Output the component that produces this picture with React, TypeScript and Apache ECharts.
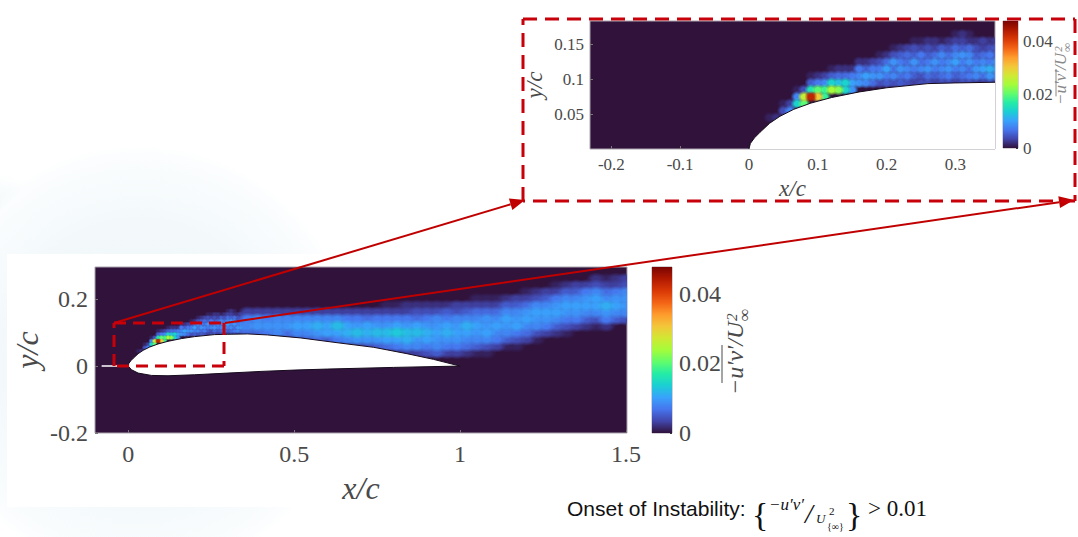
import React, { useEffect, useRef } from "react";
import * as echarts from "echarts";

// Colour scale of the field (bottom to top of the colour bar)
const colorStops = ["#30123b","#4145ab","#4675ed","#39a2fc","#1bcfd4","#24eca6","#61fc6c","#a4fc3b","#d1e834","#f3c63a","#fe9b2d","#f36315","#d93806","#b11901","#7a0403"];
const colorMax = 0.0477;
const colorTicks = [0, 0.02, 0.04];

// Airfoil outline (x/c, y/c), leading edge to trailing edge
const upperX = [0,0.002,0.008,0.016,0.03,0.045,0.065,0.09,0.12,0.16,0.2,0.26,0.3,0.36,0.42,0.52,0.62,0.74,0.84,0.92,1];
const upperY = [0,0.008,0.016,0.024,0.037,0.047,0.057,0.066,0.074,0.082,0.088,0.094,0.095,0.096,0.093,0.084,0.071,0.056,0.037,0.02,0];
const lowerX = [1,0.8,0.6,0.5,0.4,0.3,0.2,0.12,0.07,0.03,0.01,0];
const lowerY = [0,-0.004,-0.009,-0.012,-0.016,-0.021,-0.026,-0.029,-0.028,-0.021,-0.011,0];
const plateX = [-0.08,0];
const plateY = [0,0];

// Leading-edge turbulence: each column = [first row (y/c = (row+0.5)*0.01), values*1000 upward]
const leadX = [0.03,0.04,0.05,0.06,0.07,0.08,0.09,0.1,0.11,0.12,0.13,0.14,0.15,0.16,0.17,0.18,0.19,0.2,0.21,0.22,0.23,0.24,0.25,0.26,0.27,0.28,0.29,0.3,0.31,0.32,0.33,0.34,0.35,0.36];
const leadColumns = [
  [4,1],[4,2],[5,4,1],[5,8,3],[6,14,8,1],[6,20,26,4],[7,43,16,5,1],[7,30,20,7,2],[7,18,18,8,3],[8,24,14,5,1],
  [8,22,12,6,2],[8,14,14,6,2],[8,9,10,7,2],[9,9,8,7,2],[9,8,10,5,2],[9,6,9,7,3],[9,4,9,7,4,1],[9,5,7,10,6,2],
  [9,4,8,6,9,4,1],[9,5,6,9,7,5,2],[9,4,7,8,6,6,3],[9,3,5,7,9,5,4,1],[9,4,4,8,6,7,3,1],[9,4,6,9,7,5,4,2],[9,3,5,7,9,6,3,2],
  [9,4,6,8,7,8,5,1],[9,4,7,9,8,6,4,2],[9,3,5,7,10,8,6,3,1],[9,4,6,8,7,9,5,3,2],[9,4,7,6,9,8,6,2,1],[9,3,8,9,7,5,4,2],
  [9,3,6,10,8,6,3,3],[9,4,9,11,7,7,4,2],[9,3,8,10,9,5,5,3],
];

// Wake and aft boundary layer: each column = [first row (y/c = row*0.02), values*1000 upward]
const wakeX = [0.36,0.39,0.42,0.45,0.48,0.51,0.54,0.57,0.6,0.63,0.66,0.69,0.72,0.75,0.78,0.81,0.84,0.87,0.9,0.93,0.96,0.99,1.02,1.05,1.08,1.11,1.14,1.17,1.2,1.23,1.26,1.29,1.32,1.35,1.38,1.41,1.44,1.47,1.5];
const wakeColumns = [
  [5,6,8,7,3],[5,6,9,8,3],[5,7,9,7,3],[5,8,9,8,3],[4,3,6,9,8,3],[4,4,8,10,8,3],[4,5,8,10,8,3],[4,6,9,11,8,3],[4,5,10,10,8,3],
  [4,7,10,12,8,3],[3,3,8,11,10,7,3],[3,3,9,12,9,7,3],[3,4,9,11,10,6,3],[3,5,9,12,9,7,3],[3,6,10,12,9,7,3,1],
  [2,2,7,10,13,10,7,3,1],[2,3,8,11,12,9,7,3,2],[2,3,8,9,12,10,6,4,2],[2,4,7,10,11,9,7,4,2],[2,5,8,9,10,9,8,4,2],
  [2,3,7,9,11,10,7,5,2],[2,3,7,9,10,9,8,4,3],[2,2,6,8,10,11,8,5,3],[2,1,5,8,9,10,8,6,3,1],[2,1,4,8,10,9,9,6,3,1],
  [3,3,7,8,10,8,6,3,1],[3,1,5,8,9,10,8,5,2],[3,1,4,7,10,9,8,5,3],[4,3,6,8,10,9,6,3,1],[4,1,4,8,9,10,8,4,2],
  [5,3,7,9,10,8,5,3],[5,2,5,8,10,9,7,3,1],[5,1,4,7,9,10,8,5,2],[6,3,7,9,10,8,5,3],[6,2,5,8,10,9,7,3],
  [6,1,4,8,10,10,8,4,2],[6,2,7,9,11,8,6,3,1],[7,5,8,10,9,7,3,2],[7,4,8,9,9,8,4,3],
];

// Axis ticks
const mainXTicks = [0,0.5,1,1.5];
const mainYTicks = [-0.2,0,0.2];
const insetXTicks = [-0.2,-0.1,0,0.1,0.2,0.3];
const insetYTicks = [0.05,0.1,0.15];

const TICK_FONT = "Liberation Serif";
const TICK_COLOR = "#4a4a4a";
const RED = "#c00000";

const toRgb = (h: string) => [1,3,5].map((i) => parseInt(h.slice(i, i + 2), 16));
const colorOf = (v: number) => {
  const t = Math.min(0.9999, Math.max(0, v / colorMax)) * (colorStops.length - 1);
  const i = Math.floor(t), f = t - i;
  const a = toRgb(colorStops[i]), b = toRgb(colorStops[i + 1]);
  return a.map((c, k) => Math.round(c + (b[k] - c) * f));
};
const cells = (xs: number[], cols: number[][], dy: number, shift: number) => {
  const out: number[][] = [];
  xs.forEach((x, i) => {
    const [first, ...vals] = cols[i];
    vals.forEach((v, j) => out.push([x, (first + j + shift) * dy, v / 1000]));
  });
  return out;
};
const leadCells = cells(leadX, leadColumns, 0.01, 0.5);
const wakeCells = cells(wakeX, wakeColumns, 0.02, 0);

const fieldSeries = (idx: number, data: number[][], dx: number, dy: number) => ({
  type: "custom", xAxisIndex: idx, yAxisIndex: idx, z: 2, clip: true, silent: true,
  data: [...data].sort((a, b) => a[2] - b[2]),
  encode: { x: 0, y: 1 },
  renderItem: (_: any, api: any) => {
    const x = api.value(0), y = api.value(1), v = api.value(2);
    const p0 = api.coord([x - dx, y + dy]), p1 = api.coord([x + dx, y - dy]);
    const [r, g, b] = colorOf(v);
    return {
      type: "rect",
      shape: { x: p0[0], y: p0[1], width: p1[0] - p0[0], height: p1[1] - p0[1] },
      style: { fill: { type: "radial", x: 0.5, y: 0.5, r: 0.5, colorStops: [
        { offset: 0, color: `rgba(${r},${g},${b},1)` },
        { offset: 0.4, color: `rgba(${r},${g},${b},1)` },
        { offset: 1, color: `rgba(${r},${g},${b},0)` },
      ] } },
    };
  },
});

const airfoilSeries = (idx: number) => ({
  type: "custom", xAxisIndex: idx, yAxisIndex: idx, z: 3, clip: true, silent: true,
  data: [[0, 0]], encode: { x: 0, y: 1 },
  renderItem: (_: any, api: any) => ({
    type: "polygon",
    shape: { points: [
      ...upperX.map((x, i) => api.coord([x, upperY[i]])),
      ...lowerX.map((x, i) => api.coord([x, lowerY[i]])),
    ] },
    style: { fill: "#ffffff", stroke: "#160a1c", lineWidth: 1 },
  }),
});

const colorbarSeries = (idx: number) => ({
  type: "custom", xAxisIndex: idx, yAxisIndex: idx, z: 2, silent: true,
  data: [[0, 0]], encode: { x: 0, y: 1 },
  renderItem: (_: any, api: any) => {
    const p0 = api.coord([0, colorMax]), p1 = api.coord([1, 0]);
    const n = colorStops.length - 1;
    return {
      type: "rect",
      shape: { x: p0[0], y: p0[1], width: p1[0] - p0[0], height: p1[1] - p0[1] },
      style: { fill: { type: "linear", x: 0, y: 0, x2: 0, y2: 1,
        colorStops: colorStops.map((c, i) => ({ offset: (n - i) / n, color: c })).reverse() } },
    };
  },
});

const valueAxis = (o: any, ticks: number[], size: number, name: string, gap: number, nameSize: number, margin: number) => ({
  type: "value", min: o.min, max: o.max, gridIndex: o.grid, position: o.position,
  splitLine: { show: false },
  axisLine: { show: false, onZero: false },
  axisTick: { show: true, inside: true, length: 3, lineStyle: { color: "#777", width: 1 }, customValues: ticks },
  axisLabel: { show: true, color: TICK_COLOR, fontFamily: TICK_FONT, fontSize: size, margin, customValues: ticks, hideOverlap: false,
    formatter: (v: number) => String(+v.toFixed(3)) },
  name, nameLocation: "middle", nameGap: gap,
  nameTextStyle: { fontFamily: TICK_FONT, fontStyle: "italic", fontSize: nameSize, color: TICK_COLOR },
});

const barX = (g: number) => ({ type: "value", min: 0, max: 1, gridIndex: g, show: false });
const barY = (g: number, size: number, margin: number) => ({
  type: "value", min: 0, max: colorMax, gridIndex: g, position: "right",
  splitLine: { show: false }, axisLine: { show: false, onZero: false },
  axisTick: { show: true, inside: true, length: 2, lineStyle: { color: "#333" }, customValues: colorTicks },
  axisLabel: { show: true, color: TICK_COLOR, fontFamily: TICK_FONT, fontSize: size, margin, customValues: colorTicks,
    formatter: (v: number) => String(+v.toFixed(3)) },
});

const plotGrid = (left: number, top: number, width: number, height: number, bg: boolean) => ({
  left, top, width, height, show: true, borderColor: "#a9a4ad", borderWidth: 1,
  backgroundColor: bg ? "#30123b" : "transparent",
});

const txt = (text: string, x: number, y: number, font: string) => ({
  type: "text", z: 120, silent: true, x, y,
  style: { text, font, fill: "#111", textAlign: "left", textVerticalAlign: "middle" },
});

const dashLine = (x1: number, y1: number, x2: number, y2: number, dash: number[]) => ({
  type: "line", z: 110, silent: true, shape: { x1, y1, x2, y2 },
  style: { stroke: "#c8000a", lineWidth: 3, lineDash: dash },
});
const dashBox = (l: number, t: number, r: number, b: number, dash: number[]) => [
  dashLine(l, t, r, t, dash), dashLine(r, t, r, b, dash), dashLine(r, b, l, b, dash), dashLine(l, b, l, t, dash),
];
const arrow = (x1: number, y1: number, x2: number, y2: number) => {
  const a = Math.atan2(y2 - y1, x2 - x1), L = 15, W = 6;
  const bx = x2 - L * Math.cos(a), by = y2 - L * Math.sin(a);
  return [
    { type: "line", z: 105, silent: true, shape: { x1, y1, x2: bx, y2: by }, style: { stroke: RED, lineWidth: 2 } },
    { type: "polygon", z: 105, silent: true, shape: { points: [[x2, y2],
      [bx - W * Math.sin(a), by + W * Math.cos(a)], [bx + W * Math.sin(a), by - W * Math.cos(a)]] }, style: { fill: RED } },
  ];
};

const ROT = Math.PI / 2;
const cbLabel = (cx: number, yBase: number, k: number, color: string, overOff: number) => {
  const f = (s: number) => `italic ${Math.round(s * k)}px 'Liberation Serif'`;
  const part = (text: string, along: number, across: number, s: number) => ({
    type: "text", z: 120, silent: true, x: cx + across * k, y: yBase - along * k, rotation: ROT,
    style: { text, font: f(s), fill: color, textAlign: "left", textVerticalAlign: "bottom" },
  });
  return [
    part("−u′v′/U", 0, 0, 24),
    part("2", 74, -8, 15),
    part("∞", 74, 6, 17),
    { type: "line", z: 120, silent: true,
      shape: { x1: cx - overOff, y1: yBase - 12 * k, x2: cx - overOff, y2: yBase - 50 * k },
      style: { stroke: color, lineWidth: 1 } },
  ];
};

const graphics = [
  ...arrow(114, 323, 525, 200),
  ...arrow(225, 323, 1074, 200),
  ...dashBox(114, 323, 224, 366, [12, 7]),
  ...dashBox(523, 19, 1075, 201, [14, 8]),
  ...cbLabel(747, 395, 1, "#4a4a4a", 25),
  ...cbLabel(1069, 105, 0.72, "#888", 13),
  txt("Onset of Instability:", 567, 508, "21px 'Liberation Sans'"),
  txt("{", 752, 514, "34px 'Liberation Serif'"),
  txt("−u′v′", 769, 504, "italic 17px 'Liberation Serif'"),
  txt("/", 805, 513, "italic 28px 'Liberation Serif'"),
  txt("U", 816, 518, "italic 13px 'Liberation Serif'"),
  txt("2", 829, 511, "11px 'Liberation Serif'"),
  txt("{∞}", 827, 526, "10px 'Liberation Serif'"),
  txt("}", 846, 514, "34px 'Liberation Serif'"),
  txt("> 0.01", 868, 508, "23px 'Liberation Serif'"),
];

export default function App() {
  const ref = useRef<HTMLDivElement>(null);
  useEffect(() => {
    document.body.style.margin = "0";
    const chart = echarts.init(ref.current!, null, { renderer: "svg" });
    chart.setOption({
      animation: false,
      backgroundColor: "transparent",
      grid: [
        plotGrid(95, 267, 532, 166, true),
        plotGrid(652, 267, 20, 166, false),
        plotGrid(590, 21, 405, 128, true),
        plotGrid(1003, 21, 15, 127, false),
      ],
      xAxis: [
        valueAxis({ min: -0.1, max: 1.503, grid: 0, position: "bottom" }, mainXTicks, 24, "x/c", 39, 32, 9),
        barX(1),
        valueAxis({ min: -0.231, max: 0.3575, grid: 2, position: "bottom" }, insetXTicks, 17, "x/c", 28, 23, 7),
        barX(3),
      ],
      yAxis: [
        valueAxis({ min: -0.2, max: 0.296, grid: 0, position: "left" }, mainYTicks, 24, "y/c", 52, 32, 7),
        barY(1, 24, 7),
        valueAxis({ min: 0, max: 0.184, grid: 2, position: "left" }, insetYTicks, 17, "y/c", 44, 23, 6),
        barY(3, 17, 5),
      ],
      series: [
        fieldSeries(0, leadCells, 0.0095, 0.0085),
        fieldSeries(0, wakeCells, 0.03, 0.02),
        airfoilSeries(0),
        { type: "line", xAxisIndex: 0, yAxisIndex: 0, z: 3, showSymbol: false, silent: true,
          data: plateX.map((x, i) => [x, plateY[i]]), lineStyle: { color: "#ffffff", width: 1.5 } },
        colorbarSeries(1),
        fieldSeries(2, leadCells, 0.0095, 0.0085),
        airfoilSeries(2),
        colorbarSeries(3),
      ],
      graphic: graphics,
    });
    return () => chart.dispose();
  }, []);
  return (
    <div style={{
      position: "fixed", left: 0, top: 0, width: 1078, height: 537, overflow: "hidden",
      background:
        "linear-gradient(#fff,#fff) 7px 254px / 640px 253px no-repeat," +
        "radial-gradient(circle 215px at 140px 360px, #edf6f9 0%, #f3f9fb 65%, #fbfdfe 95%, rgba(255,255,255,0) 100%)," +
        "radial-gradient(circle 170px at -30px 340px, #dff0f3 0%, #eef7f9 75%, rgba(255,255,255,0) 100%)," +
        "#fff",
    }}>
      <div ref={ref} style={{ width: 1078, height: 537 }} />
    </div>
  );
}
